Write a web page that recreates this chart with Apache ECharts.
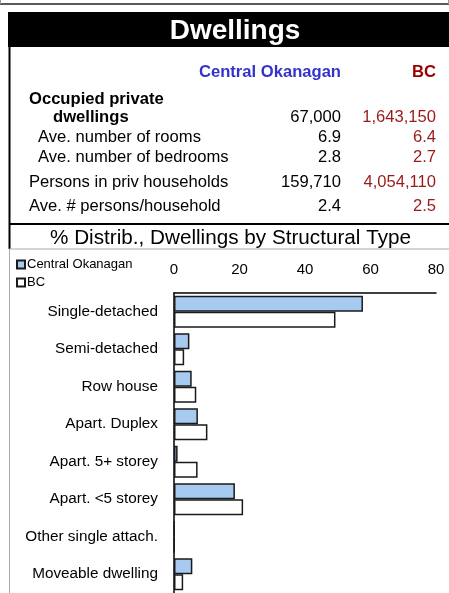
<!DOCTYPE html>
<html>
<head>
<meta charset="utf-8">
<script src="https://cdn.jsdelivr.net/npm/echarts@6/dist/echarts.min.js"></script>
<style>
  html, body { margin: 0; padding: 0; background: #fff; }
  #main { width: 449px; height: 593px; }
</style>
</head>
<body>
<div id="main"></div>
<script>
// bar chart data (% of dwellings)
const categories = [
  "Single-detached",
  "Semi-detached",
  "Row house",
  "Apart. Duplex",
  "Apart. 5+ storey",
  "Apart. <5 storey",
  "Other single attach.",
  "Moveable dwelling",
];
const centralOkanagan = [57.7, 4.7, 5.4, 7.3, 1.1, 18.6, 0.1, 5.6];
const bc = [49.3, 3.1, 6.8, 10.2, 7.2, 21.1, 0.1, 2.8];
const xTicks = [0, 20, 40, 60, 80];

// summary table
const statLabels = [
  "Ave. number of rooms",
  "Ave. number of bedrooms",
  "Persons in priv households",
  "Ave. # persons/household",
];
const statCO = ["6.9", "2.8", "159,710", "2.4"];
const statBC = ["6.4", "2.7", "4,054,110", "2.5"];
const dwellingsCO = "67,000";
const dwellingsBC = "1,643,150";

const FONT = "'Liberation Sans', Arial, sans-serif";
const RED = "#9a1a1a";

const chart = echarts.init(document.getElementById("main"));

const txt = (text, x, y, opts = {}) => ({
  type: "text",
  x: x,
  y: y,
  silent: true,
  style: {
    text: text,
    fill: opts.fill || "#000",
    font: (opts.bold ? "bold " : "") + (opts.size || 16.6) + "px " + FONT,
    align: opts.align || "left",
    verticalAlign: "middle",
  },
});
const line = (x1, y1, x2, y2, color, w) => ({
  type: "line",
  silent: true,
  shape: { x1, y1, x2, y2 },
  style: { stroke: color, lineWidth: w },
});

// rows of the table: label x, y
const rowY = [137, 157, 182, 206];
const rowX = [38, 38, 29, 29];

const graphic = [
  line(0, 4, 449, 4, "#222", 1.5),
  line(0.5, 0, 0.5, 4, "#999", 1),
  line(448.5, 0, 448.5, 4, "#999", 1),
  { type: "rect", silent: true, shape: { x: 8, y: 12, width: 441, height: 35 }, style: { fill: "#000" } },
  txt("Dwellings", 235, 31, { fill: "#fff", bold: true, size: 28, align: "center" }),
  line(9.5, 47, 9.5, 249, "#000", 2),
  line(9, 224, 449, 224, "#000", 2),
  line(9, 249, 449, 249, "#aaa", 1),
  line(9.5, 249, 9.5, 593, "#aaa", 1),
  txt("Central Okanagan", 341, 72, { fill: "#3333cc", bold: true, align: "right" }),
  txt("BC", 436, 72, { fill: "#990000", bold: true, align: "right" }),
  txt("Occupied private", 29, 99, { bold: true }),
  txt("dwellings", 53, 117, { bold: true }),
  txt(dwellingsCO, 341, 117, { align: "right" }),
  txt(dwellingsBC, 436, 117, { align: "right", fill: RED }),
  txt("% Distrib., Dwellings by Structural Type", 230.5, 238, { size: 20.7, align: "center" }),
];
statLabels.forEach((s, i) => {
  graphic.push(txt(s, rowX[i], rowY[i]));
  graphic.push(txt(statCO[i], 341, rowY[i], { align: "right" }));
  graphic.push(txt(statBC[i], 436, rowY[i], { align: "right", fill: RED }));
});

const option = {
  animation: false,
  textStyle: { fontFamily: FONT },
  legend: {
    orient: "vertical",
    left: 11,
    top: 253,
    itemWidth: 8,
    itemHeight: 8,
    itemGap: 5,
    icon: "rect",
    textStyle: { fontSize: 13, color: "#000", padding: [0, 0, 0, -3] },
    data: ["Central Okanagan", "BC"],
  },
  grid: { left: 174, top: 293, width: 262, height: 300 },
  xAxis: {
    type: "value",
    position: "top",
    min: xTicks[0],
    max: xTicks[xTicks.length - 1],
    interval: 20,
    axisLine: { show: true, lineStyle: { color: "#000", width: 1.5 } },
    axisTick: { show: false },
    splitLine: { show: false },
    axisLabel: { fontSize: 15, color: "#000", margin: 16 },
  },
  yAxis: {
    type: "category",
    inverse: true,
    data: categories,
    axisLine: { show: true, lineStyle: { color: "#000", width: 1.5 } },
    axisTick: { show: false },
    axisLabel: { fontSize: 15.3, color: "#000", margin: 16, padding: [4, 0, 0, 0] },
  },
  series: [
    {
      name: "Central Okanagan",
      type: "bar",
      data: centralOkanagan,
      barGap: "0%",
      barCategoryGap: "15%",
      itemStyle: { color: "#a6caf0", borderColor: "#1a1a1a", borderWidth: 1.5 },
    },
    {
      name: "BC",
      type: "bar",
      data: bc,
      itemStyle: { color: "#ffffff", borderColor: "#1a1a1a", borderWidth: 1.5 },
    },
  ],
  graphic: graphic,
};

chart.setOption(option);
</script>
</body>
</html>
